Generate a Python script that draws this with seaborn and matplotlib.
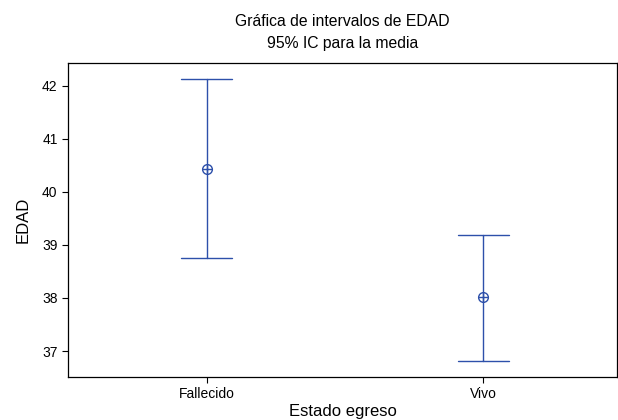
import matplotlib
matplotlib.use("Agg")
import matplotlib.pyplot as plt
import seaborn as sns
import pandas as pd

categories = ["Fallecido", "Vivo"]
means = [40.43, 38.02]
lower = [38.75, 36.82]
upper = [42.13, 39.19]

color = "#2d50aa"

sns.set_style("ticks")
plt.rcParams["font.family"] = ["Liberation Sans", "DejaVu Sans"]
plt.rcParams["text.color"] = "black"
plt.rcParams["axes.labelcolor"] = "black"

rows = []
for c, lo, m, up in zip(categories, lower, means, upper):
    for v in (lo, m, up):
        rows.append({"Estado egreso": c, "EDAD": v})
df = pd.DataFrame(rows)

fig = plt.figure(figsize=(6.18, 4.2), dpi=100)
ax = fig.add_axes([68/618, 1-377/420, 549/618, (377-63)/420])

sns.pointplot(data=df, x="Estado egreso", y="EDAD", order=categories,
              estimator="median", errorbar=("pi", 100), linestyle="none",
              markers="o", color=color, capsize=0.184,
              err_kws={"linewidth": 1.0}, markersize=7,
              markerfacecolor="white", markeredgewidth=1.0, ax=ax)
mdf = pd.DataFrame({"Estado egreso": categories, "EDAD": means})
sns.scatterplot(data=mdf, x="Estado egreso", y="EDAD", marker="+", s=50,
                color=color, linewidth=1.0, ax=ax, zorder=10)

ax.set_xlim(-0.502, 1.484)
ax.set_ylim(36.51, 42.43)
ax.set_yticks([37, 38, 39, 40, 41, 42])
ax.tick_params(axis="both", labelsize=10, length=4, width=0.8, colors="black")
for s in ax.spines.values():
    s.set_visible(True)
    s.set_color("black")
    s.set_linewidth(0.9)
ax.set_xlabel("Estado egreso", fontsize=12, labelpad=2, color="black")
ax.set_ylabel("EDAD", fontsize=12, labelpad=8, color="black")
ax.set_title("Gráfica de intervalos de EDAD\n95% IC para la media", fontsize=11.3,
             pad=11, linespacing=1.55, color="black")

fig.savefig("out.png", dpi=100)
